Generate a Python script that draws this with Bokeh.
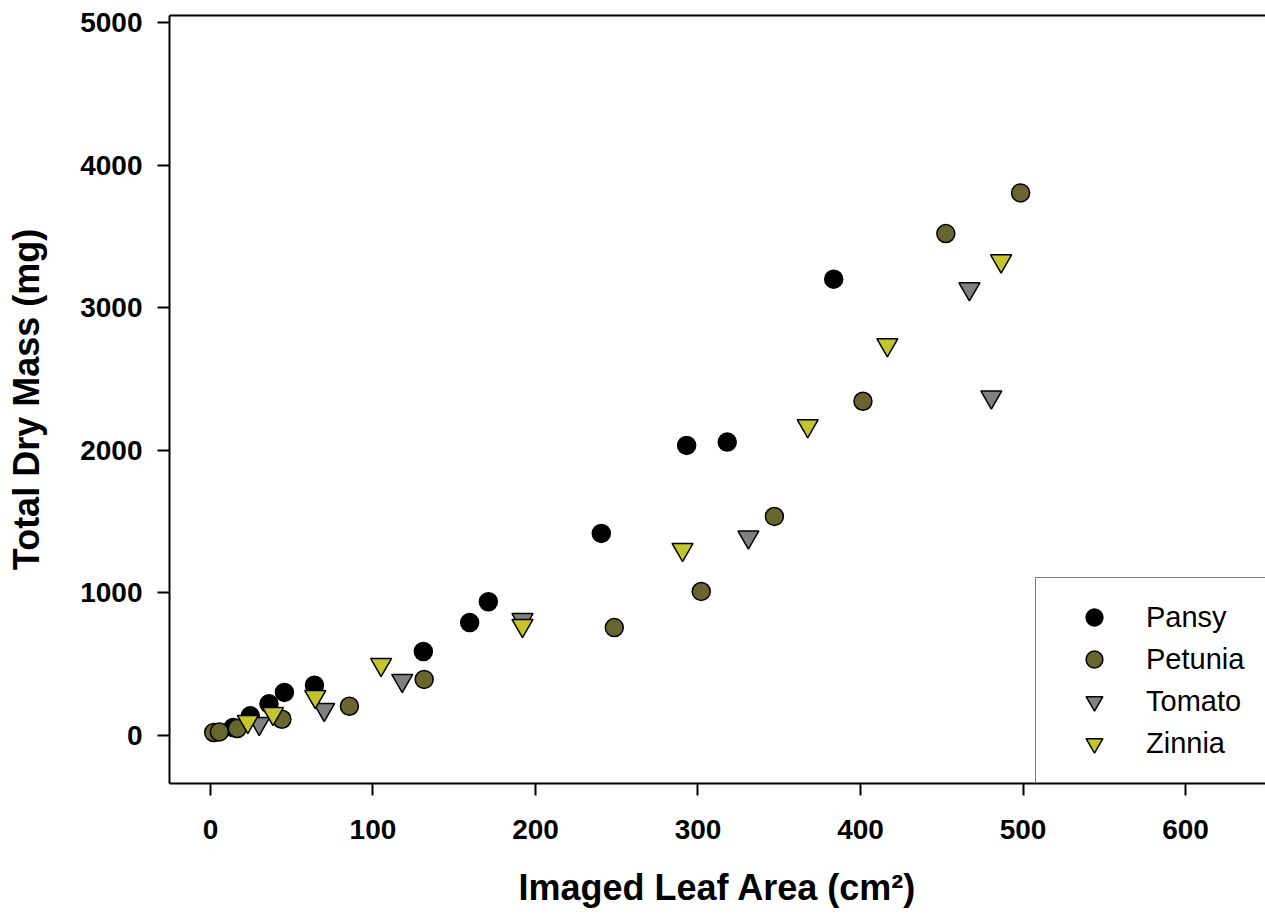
from bokeh.plotting import figure
from bokeh.models import LinearAxis, FixedTicker, Legend, LegendItem, Range1d
from bokeh.embed import file_html
from bokeh.resources import INLINE

# ---- data ----
pansy_x = [14, 24.5, 36, 45.5, 64, 131, 159.5, 171, 240.5, 293, 318, 383.5]
pansy_y = [56, 138, 222, 302, 353, 589, 792, 938, 1417, 2034, 2058, 3200]

petunia_x = [2, 5.5, 16.5, 44, 85.5, 131.5, 248.5, 302, 347, 401.5, 452.5, 498.5]
petunia_y = [21, 25, 49, 114, 205, 393, 757, 1010, 1536, 2344, 3520, 3805]

tomato_x = [30, 70, 118, 192, 331, 467, 480.5]
tomato_y = [84, 182, 386, 813, 1392, 3132, 2374]

zinnia_x = [23, 38.5, 64.5, 105, 192, 290.5, 367.5, 416.5, 486.5]
zinnia_y = [98, 154, 273, 498, 771, 1304, 2172, 2740, 3328]

x_ticks = [0, 100, 200, 300, 400, 500, 600]
y_ticks = [0, 1000, 2000, 3000, 4000, 5000]

FONT = "Liberation Sans"

p = figure(width=1265, height=918, output_backend="svg", toolbar_location=None,
           x_range=Range1d(-25.2, 649.2), y_range=Range1d(-336.6, 5049),
           min_border_left=169, min_border_top=15, min_border_right=0,
           min_border_bottom=135,
           x_axis_label="Imaged Leaf Area (cm\u00b2)",
           y_axis_label="Total Dry Mass (mg)")
p.outline_line_color = None
p.grid.visible = False
p.background_fill_color = "white"
p.border_fill_color = "white"

for ax, ticks in ((p.xaxis[0], x_ticks), (p.yaxis[0], y_ticks)):
    ax.ticker = FixedTicker(ticks=ticks)
    ax.axis_line_width = 2
    ax.axis_line_color = "black"
    ax.major_tick_line_width = 2
    ax.major_tick_line_color = "black"
    ax.major_tick_out = 12
    ax.major_tick_in = 0
    ax.minor_tick_line_color = None
    ax.major_label_text_font = FONT
    ax.major_label_text_font_style = "bold"
    ax.major_label_text_font_size = "28px"
    ax.major_label_text_color = "black"
    ax.axis_label_text_font = FONT
    ax.axis_label_text_font_style = "bold"
    ax.axis_label_text_font_size = "36px"
    ax.axis_label_text_color = "black"

p.xaxis[0].major_label_standoff = 24
p.xaxis[0].axis_label_standoff = 25
p.yaxis[0].major_label_standoff = 15
p.yaxis[0].axis_label_standoff = 30

# top border line only (right side is cropped in the reference)
top = LinearAxis(ticker=FixedTicker(ticks=[]), axis_line_width=2,
                 axis_line_color="black", major_tick_out=0, major_tick_in=0,
                 minor_tick_out=0, minor_tick_in=0,
                 major_label_text_font_size="0px")
p.add_layout(top, "above")

r1 = p.scatter(pansy_x, pansy_y, marker="circle", size=18,
               fill_color="black", line_color="black", line_width=1.5)
r2 = p.scatter(petunia_x, petunia_y, marker="circle", size=18,
               fill_color="#66662e", line_color="black", line_width=1.5)
r3 = p.scatter(tomato_x, tomato_y, marker="inverted_triangle", size=21,
               fill_color="#808080", line_color="black", line_width=1.5)
r4 = p.scatter(zinnia_x, zinnia_y, marker="inverted_triangle", size=21,
               fill_color="#c4c42c", line_color="black", line_width=1.5)

legend = Legend(items=[LegendItem(label="Pansy", renderers=[r1]),
                       LegendItem(label="Petunia", renderers=[r2]),
                       LegendItem(label="Tomato", renderers=[r3]),
                       LegendItem(label="Zinnia", renderers=[r4])],
                location=(866, 0), glyph_width=80, glyph_height=42,
                label_standoff=12, padding=18, spacing=0, margin=0,
                label_width=300, label_text_font=FONT,
                label_text_font_size="29px", label_text_color="black",
                border_line_color="black", border_line_width=1.5,
                background_fill_color="white", background_fill_alpha=1.0)
p.add_layout(legend, "center")

open("out.html", "w").write(file_html(p, INLINE))
